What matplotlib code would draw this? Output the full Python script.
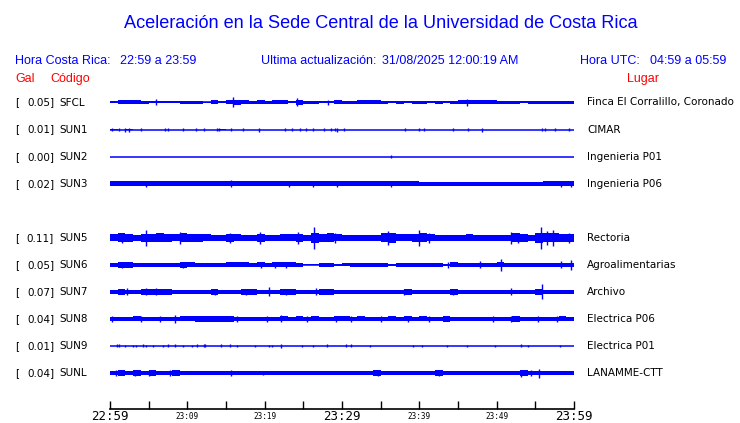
"""Aceleracion - Sede Central UCR, 1 hour of strong-motion traces"""
import numpy as np
import matplotlib
matplotlib.use("Agg")
import matplotlib.pyplot as plt
import matplotlib.transforms as mtransforms

# row order on the display (SUN4 has no trace, its row stays empty)
rows = ['SFCL', 'SUN1', 'SUN2', 'SUN3', 'SUN4', 'SUN5', 'SUN6', 'SUN7', 'SUN8', 'SUN9', 'SUNL']
codes = ['SFCL', 'SUN1', 'SUN2', 'SUN3', 'SUN5', 'SUN6', 'SUN7', 'SUN8', 'SUN9', 'SUNL']
peak_gal = [0.05, 0.01, 0.00, 0.02, 0.11, 0.05, 0.07, 0.04, 0.01, 0.04]
places = ['Finca El Corralillo, Coronado', 'CIMAR', 'Ingenieria P01', 'Ingenieria P06',
          'Rectoria', 'Agroalimentarias', 'Archivo', 'Electrica P06', 'Electrica P01',
          'LANAMME-CTT']

# time axis (minutes after 22:59 local)
tick_minutes = [0, 5, 10, 15, 20, 25, 30, 35, 40, 45, 50, 55, 60]
tick_labels = ['22:59', '', '23:09', '', '23:19', '', '23:29', '', '23:39', '', '23:49', '', '23:59']
major_minutes = [0, 30, 60]

# envelope of each trace, one value per minute (relative amplitude)
sfcl_env = [1, 2, 2, 2, 1.5, 1, 1, 1, 1, 1.5,
            1.5, 1.5, 0.5, 2, 1, 2, 2.5, 2, 1.5, 2,
            1.5, 2, 2, 1, 2.5, 1.5, 1.5, 1, 1, 2,
            1.5, 1.5, 2, 2, 2, 1.5, 1, 1.5, 1, 1.5,
            1.5, 1, 1.5, 1, 1.5, 2, 2, 2, 2, 2,
            1.5, 1.5, 1.5, 1, 1.5, 1.5, 1.5, 1.5, 1.5, 1.5]
sun1_env = [0.8, 0, 0.8, 0, 0, 0, 0, 0, 0, 0,
            0, 0, 0, 0, 0.8, 0, 0, 0, 0, 0,
            0, 0, 0, 0, 0, 0, 0, 0, 0, 0,
            0, 0, 0, 0, 0, 0, 0, 0, 0, 0,
            0, 0, 0, 0, 0, 0, 0, 0, 0, 0,
            0, 0, 0, 0, 0, 0, 0, 0, 0, 0]
sun2_env = [0] * 60
sun3_env = [2.2, 2.2, 2.2, 2.2, 2.2, 2.2, 2.2, 2.2, 2.2, 2.2,
            2.2, 2.2, 2.2, 2.2, 2.2, 2.2, 2.2, 2.2, 2.2, 2.2,
            2.2, 2.2, 2.2, 2.2, 2.2, 2.2, 2.2, 2.2, 2.2, 2.2,
            2.2, 2.2, 2.2, 2.2, 2.2, 2.2, 2.2, 2.2, 2.2, 2.2,
            2.0, 2.0, 1.9, 1.9, 1.9, 1.9, 1.9, 2.0, 2.0, 2.0,
            2.0, 2.0, 2.0, 2.0, 1.9, 2.0, 2.2, 2.2, 2.2, 2.2]
sun5_env = [3.5, 4.5, 4, 3, 4, 4, 4.5, 4, 3.5, 4.5,
            4, 4, 3.5, 3, 3, 4, 3.5, 3, 3, 4,
            3, 3, 3.5, 3.5, 4, 3, 5, 4, 4.5, 3.5,
            3, 3, 3, 3, 3, 4.5, 5, 3.5, 3.5, 4,
            4.5, 3.5, 3, 3, 3, 3, 3.5, 3, 3, 3,
            3, 3, 4.5, 4, 3, 5, 4.5, 4.5, 4, 4]
sun6_env = [2.1, 2.8, 2.8, 2.1, 2.1, 2.1, 2.1, 2.1, 2.1, 2.8,
            2.3, 2.1, 2.1, 2.1, 2.1, 2.3, 2.3, 2.3, 2.1, 2.5,
            2.1, 2.3, 2.3, 2.3, 2.1, 0.5, 0.5, 2.1, 2.1, 1.2,
            1.4, 2.1, 2.1, 2.1, 2.1, 2.1, 1.2, 2.1, 2.1, 2.1,
            2.1, 2.1, 2.1, 1.2, 2.3, 2.1, 2.1, 2.1, 2.1, 2.1,
            2.3, 2.1, 2.1, 2.1, 2.1, 2.1, 2.1, 2.1, 2.1, 2.1]
sun7_env = [2.3, 2.8, 2.3, 2.1, 3.2, 2.8, 3.2, 2.8, 2.3, 2.1,
            2.1, 2.1, 2.1, 2.8, 2.3, 2.1, 2.1, 2.8, 2.8, 2.3,
            2.1, 2.3, 2.8, 2.8, 2.3, 2.1, 2.3, 2.8, 2.8, 2.3,
            2.1, 2.1, 2.1, 2.1, 2.3, 2.3, 2.1, 2.3, 2.8, 2.1,
            2.1, 2.1, 2.3, 2.3, 2.8, 2.1, 2.1, 2.3, 2.1, 2.3,
            2.3, 2.3, 2.1, 2.1, 2.1, 2.8, 2.3, 2.1, 2.3, 2.1]
sun8_env = [2.0, 2.2, 2.2, 2.4, 2.2, 2.2, 2.2, 2.2, 2.2, 2.4,
            2.4, 2.7, 2.7, 2.7, 2.7, 2.7, 2.2, 2.2, 2.2, 2.2,
            2.2, 2.2, 2.4, 2.2, 2.4, 2.2, 2.4, 2.2, 2.2, 2.4,
            2.4, 2.2, 2.4, 2.2, 2.2, 2.2, 2.4, 2.2, 2.4, 2.2,
            2.4, 2.2, 2.2, 2.7, 2.2, 2.2, 2.2, 2.2, 2.0, 2.2,
            2.0, 2.2, 2.7, 2.2, 2.2, 2.2, 2.2, 2.2, 2.4, 2.2]
sun9_env = [0] * 60
sunl_env = [2.2, 2.7, 2.2, 3.0, 2.2, 2.7, 2.2, 2.4, 2.7, 2.2,
            2.2, 2.2, 2.2, 2.2, 2.2, 2.2, 2.2, 2.2, 2.2, 1.7,
            1.7, 2.2, 2.2, 2.2, 2.2, 2.2, 2.2, 2.2, 2.2, 2.2,
            2.2, 2.2, 2.2, 2.2, 2.7, 2.2, 2.2, 2.2, 2.2, 2.2,
            2.2, 2.2, 2.7, 2.2, 2.2, 1.7, 2.2, 2.2, 2.2, 2.2,
            2.2, 2.2, 2.2, 2.7, 2.2, 2.2, 1.7, 2.2, 2.2, 2.2]

# isolated peaks: (minute, relative amplitude)
sfcl_peaks = [(6.0, 3), (15.9, 5), (24.2, 4), (28.2, 2.5), (46.2, 3.5)]
sun1_peaks = [(0.2, 1.5), (1.1, 1.5), (2.0, 2), (2.5, 2), (4.0, 1.5), (7.1, 1.5), (7.5, 1.5),
              (9.5, 1.5), (11.1, 1.5), (12.1, 1.5), (13.8, 1.5), (14.1, 1.5), (15.6, 1.5),
              (17.2, 1.5), (19.3, 2), (22.6, 1.5), (23.5, 1.5), (24.6, 1.5), (25.4, 1.5),
              (26.3, 1.5), (27.7, 1.5), (28.6, 1.5), (29.1, 1.5), (29.4, 2), (30.2, 1.5),
              (38.1, 1.5), (39.9, 1.5), (40.6, 1.5), (44.3, 1.5), (46.3, 1.5), (48.1, 2),
              (55.9, 1.5), (56.3, 1.5), (57.5, 1.5), (59.4, 1.5)]
sun2_peaks = [(36.3, 1.2)]
sun3_peaks = [(4.7, 3), (15.7, 3.5), (23.1, 3), (26.2, 3), (29.4, 3), (36.3, 3), (58.3, 3), (59.6, 3)]
sun5_peaks = [(1.6, 5), (4.7, 8), (9.1, 6), (15.5, 5), (19.4, 6), (24.3, 6), (26.4, 11),
              (29.1, 5), (36.0, 7), (39.9, 8), (41.2, 5), (51.9, 6), (52.8, 5), (55.7, 11),
              (56.5, 7), (57.3, 8), (59.3, 5)]
sun6_peaks = [(1.6, 3), (9.5, 3), (19.5, 2.8), (21.3, 2.8), (22.8, 2.8), (43.7, 3), (47.8, 3.5),
              (50.6, 6), (58.3, 3.5), (59.6, 5)]
sun7_peaks = [(2.2, 3.5), (4.6, 3.5), (6.0, 3.5), (13.6, 3), (17.6, 3), (20.6, 4.5), (22.8, 3),
              (26.6, 3.5), (38.0, 3), (44.3, 3), (51.8, 3.5), (55.9, 7.5)]
sun8_peaks = [(0.3, 2.7), (4.0, 2.7), (6.5, 2.7), (8.4, 4), (16.4, 2.7), (20.3, 2.7), (22.1, 3.5),
              (25.5, 2.7), (29.2, 2.7), (31.2, 2.7), (35.0, 2.7), (38.5, 2.7), (41.2, 2.7),
              (49.5, 2.7), (51.8, 2.7), (55.3, 2.7), (57.8, 2.7)]
sun9_peaks = [(0.9, 1.5), (1.1, 1.5), (1.9, 1.3), (3.0, 1.3), (3.4, 1.3), (4.3, 1.5), (4.7, 1.3),
              (5.6, 1.3), (6.9, 1.3), (7.5, 1.5), (8.4, 1.5), (9.5, 1.3), (10.6, 1.3), (11.2, 1.5),
              (12.2, 1.5), (12.3, 1.5), (14.4, 1.5), (15.5, 1.5), (16.4, 1.3), (18.7, 1.3),
              (20.5, 1.3), (20.9, 1.3), (22.1, 1.8), (24.8, 1.3), (26.2, 1.3), (28.0, 1.5),
              (30.5, 1.5), (31.2, 1.5), (33.6, 1.3), (39.2, 1.3), (40.4, 1.3), (43.6, 1.3),
              (46.1, 1.3), (49.8, 1.3), (53.1, 1.5), (54.1, 1.3), (58.2, 1.3)]
sunl_peaks = [(0.8, 2.7), (3.2, 3), (5.0, 2.7), (7.8, 2.7), (15.7, 2.7), (19.8, 2.4), (34.6, 2.7),
              (42.5, 2.7), (53.2, 3.5), (54.5, 2.7), (55.5, 4.5)]

envelopes = [sfcl_env, sun1_env, sun2_env, sun3_env, sun5_env, sun6_env, sun7_env,
             sun8_env, sun9_env, sunl_env]
peaks = [sfcl_peaks, sun1_peaks, sun2_peaks, sun3_peaks, sun5_peaks, sun6_peaks, sun7_peaks,
         sun8_peaks, sun9_peaks, sunl_peaks]

W, H = 740, 423
TRACE = 'blue'


def fx(px):
    return px / W


def fy(py):
    return 1 - py / H


fig = plt.figure(figsize=(W / 100, H / 100), dpi=100)

# axes: x in minutes, y in row index (row 0 at top)
row_px = 27.05
top_row_px = 102.5
axis_px = 409
y_bottom = (axis_px - top_row_px) / row_px
ax = fig.add_axes([fx(110), fy(axis_px), 464 / W, (axis_px - (top_row_px - row_px)) / H])
ax.set_xlim(tick_minutes[0], tick_minutes[-1])
ax.set_ylim(y_bottom, -1)
amp = 1 / row_px

label_tr = mtransforms.blended_transform_factory(fig.transFigure, ax.transData)

for code, g, place, env, pk in zip(codes, peak_gal, places, envelopes, peaks):
    row = rows.index(code)
    env = np.asarray(env, dtype=float) * amp
    edges = np.arange(len(env) + 1)
    env_ext = np.append(env, env[-1])
    ax.fill_between(edges, row - env_ext, row + env_ext, step='post',
                    color=TRACE, lw=0, antialiased=False)
    ax.plot([edges[0], edges[-1]], [row, row], color=TRACE, lw=1.1, solid_capstyle='butt')
    if pk:
        t = np.array([p[0] for p in pk])
        a = np.array([p[1] for p in pk]) * amp
        ax.vlines(t, row - a, row + a, color=TRACE, lw=1.0)

    ax.text(fx(15), row, '[', transform=label_tr, ha='left', va='center', fontsize=7.5)
    ax.text(fx(54), row, f'{g:.2f}]', transform=label_tr, ha='right', va='center', fontsize=7.5)
    ax.text(fx(59), row, code, transform=label_tr, ha='left', va='center', fontsize=7.5)
    ax.text(fx(587), row, place, transform=label_tr, ha='left', va='center', fontsize=7.5)

for side in ['left', 'right', 'top']:
    ax.spines[side].set_visible(False)
ax.spines['bottom'].set_linewidth(1.2)
ax.set_yticks([])
ax.set_xticks(tick_minutes)
ax.set_xticklabels([])
ax.tick_params(axis='x', direction='in', length=6, width=1)

# time labels hang just under the axis line, baseline a fixed offset below it
for m, lbl in zip(tick_minutes, tick_labels):
    if not lbl:
        continue
    big = m in major_minutes
    ax.annotate(lbl, (m, 0), xycoords=('data', 'axes fraction'),
                xytext=(0, -7.9 if big else -7.3), textcoords='offset points',
                ha='center', va='baseline', family='DejaVu Sans Mono',
                fontsize=9 if big else 5.5)

# header
head = ['Liberation Sans', 'DejaVu Sans']
fig.text(fx(381), fy(23), 'Aceleración en la Sede Central de la Universidad de Costa Rica',
         ha='center', va='center', color='blue', fontsize=13.1, family=head)
fig.text(fx(15), fy(61), 'Hora Costa Rica:', ha='left', va='center', color='blue', fontsize=9, family=head)
fig.text(fx(120), fy(61), '22:59 a 23:59', ha='left', va='center', color='blue', fontsize=9, family=head)
fig.text(fx(261), fy(61), 'Ultima actualización:', ha='left', va='center', color='blue', fontsize=9, family=head)
fig.text(fx(382), fy(61), '31/08/2025 12:00:19 AM', ha='left', va='center', color='blue', fontsize=9, family=head)
fig.text(fx(580), fy(61), 'Hora UTC:', ha='left', va='center', color='blue', fontsize=9, family=head)
fig.text(fx(650), fy(61), '04:59 a 05:59', ha='left', va='center', color='blue', fontsize=9, family=head)
fig.text(fx(15), fy(79), 'Gal', ha='left', va='center', color='red', fontsize=9, family=head)
fig.text(fx(50), fy(79), 'Código', ha='left', va='center', color='red', fontsize=9, family=head)
fig.text(fx(627), fy(79), 'Lugar', ha='left', va='center', color='red', fontsize=9, family=head)

fig.savefig('out.png', dpi=100)
